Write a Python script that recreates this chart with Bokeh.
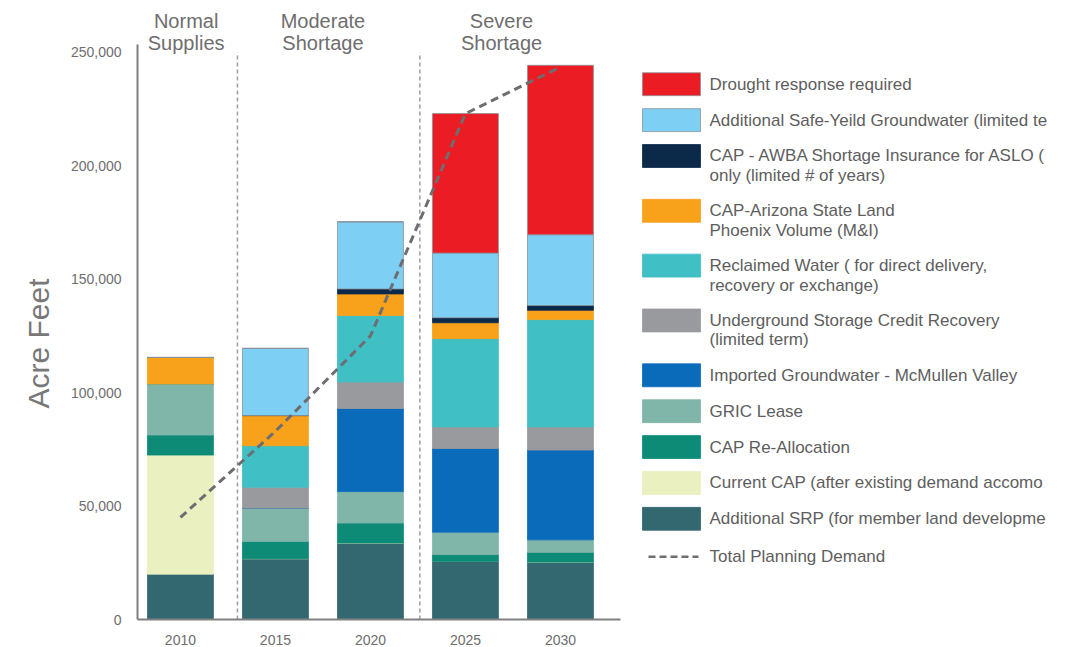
from bokeh.plotting import figure
from bokeh.layouts import row
from bokeh.models import ColumnDataSource, Range1d, FixedTicker, NumeralTickFormatter, Title
from bokeh.core.properties import value
from bokeh.embed import file_html
from bokeh.resources import INLINE

# ---- data (acre-feet) ----
years = [2010, 2015, 2020, 2025, 2030]

srp          = [20000, 26800, 33700, 25600, 25300]
current_cap  = [52500,     0,     0,     0,     0]
cap_realloc  = [ 8800,  7600,  8800,  3000,  4300]
gric         = [22500, 14700, 13900,  9900,  5500]
imported_gw  = [    0,     0, 36600, 36900, 39600]
storage_rec  = [    0,  9200, 11700,  9500, 10200]
reclaimed    = [    0, 18300, 29300, 38900, 47300]
cap_state    = [11700, 13300,  9500,  7000,  4100]
awba         = [    0,     0,  2200,  2200,  2100]
safe_yield   = [    0, 29600, 29600, 28500, 31200]
drought      = [    0,     0,     0, 61500, 74700]

planning_demand = [45000, 83000, 125000, 223000, 243500]

series_keys = ["srp", "current_cap", "cap_realloc", "gric", "imported_gw",
               "storage_rec", "reclaimed", "cap_state", "awba", "safe_yield", "drought"]
series_values = [srp, current_cap, cap_realloc, gric, imported_gw,
                 storage_rec, reclaimed, cap_state, awba, safe_yield, drought]
series_colors = ["#346871", "#EAF0C0", "#0D8B77", "#80B5A9", "#0A6BBB",
                 "#999A9E", "#40BFC5", "#F8A11B", "#0B2A4A", "#7DCFF3", "#EC1C24"]
series_edges = ["#346871", "#EAF0C0", "#0D8B77", "#80B5A9", "#0A6BBB",
                "#999A9E", "#40BFC5", "#F8A11B", "#0B2A4A", "#8A929A", "#8A929A"]
series_labels = [
    ["Additional SRP (for member land developme"],
    ["Current CAP (after existing demand accomo"],
    ["CAP Re-Allocation"],
    ["GRIC Lease"],
    ["Imported Groundwater - McMullen Valley"],
    ["Underground Storage Credit Recovery", "(limited term)"],
    ["Reclaimed Water ( for direct delivery,", "recovery or exchange)"],
    ["CAP-Arizona State Land", "Phoenix Volume (M&I)"],
    ["CAP - AWBA Shortage Insurance for ASLO (", "only (limited # of years)"],
    ["Additional Safe-Yeild Groundwater (limited te"],
    ["Drought response required"],
]
demand_label = "Total Planning Demand"

y_ticks = [0, 50000, 100000, 150000, 200000, 250000]

period_bounds = [2013.0, 2022.6]
period_top = ["Normal", "Moderate", "Severe"]
period_bottom = ["Supplies", "Shortage", "Shortage"]
period_x = [2010.3, 2017.5, 2026.9]

FONT = "Liberation Sans"
TEXT_GREY = "#6E6E6E"

# ---- main chart ----
p = figure(width=630, height=647,
           x_range=Range1d(2007.74, 2033.16), y_range=Range1d(0, 272850),
           output_backend="svg", toolbar_location=None,
           min_border_left=137, min_border_right=10,
           min_border_top=0, min_border_bottom=26)
p.outline_line_color = None
p.grid.visible = False
p.background_fill_color = "white"
p.border_fill_color = "white"

src = ColumnDataSource(dict(year=years, **dict(zip(series_keys, series_values))))
p.vbar_stack(series_keys, x="year", width=3.47, source=src,
             fill_color=series_colors, line_color=series_edges, line_width=0.8)

# period separators
p.segment(x0=period_bounds, y0=[0, 0], x1=period_bounds, y1=[y_ticks[-1]] * 2,
          line_color="#A898A4", line_width=1.5, line_dash="4 3")

# total planning demand
p.line(years, planning_demand, line_color="#6D6E71", line_width=3, line_dash="8 5")

# period headings
p.text(x=period_x, y=[263900] * 3, text=period_top,
       text_font=value(FONT), text_font_size="20px", text_color=TEXT_GREY,
       text_align="center", text_baseline="alphabetic")
p.text(x=period_x, y=[254300] * 3, text=period_bottom,
       text_font=value(FONT), text_font_size="20px", text_color=TEXT_GREY,
       text_align="center", text_baseline="alphabetic")

# axes
yax = p.yaxis[0]
yax.ticker = FixedTicker(ticks=y_ticks)
yax.formatter = NumeralTickFormatter(format="0,0")
yax.bounds = (0, 253500)
yax.major_label_standoff = 10

xax = p.xaxis[0]
xax.ticker = FixedTicker(ticks=years)
xax.major_label_standoff = 9

for ax in (xax, yax):
    ax.axis_line_color = "#808080"
    ax.axis_line_width = 2
    ax.major_tick_line_color = None
    ax.minor_tick_line_color = None
    ax.major_label_text_font = FONT
    ax.major_label_text_font_size = "14px"
    ax.major_label_text_color = TEXT_GREY

# vertical axis title, raised from the bottom of the frame
p.add_layout(Title(text="Acre Feet", align="left", offset=211, standoff=26,
                   text_font=FONT, text_font_size="30px", text_font_style="normal",
                   text_color="#787878"), "left")

# ---- legend panel ----
lg = figure(width=437, height=647, x_range=Range1d(630, 1067), y_range=Range1d(621, 0),
            x_axis_type=None, y_axis_type=None, output_backend="svg",
            toolbar_location=None, min_border=0, min_border_bottom=26)
lg.outline_line_color = None
lg.grid.visible = False

row_y, sw_colors, sw_edges, txt, txt_y = [], [], [], [], []
y = 84.0
for color, edge, lines in zip(series_colors[::-1], series_edges[::-1], series_labels[::-1]):
    row_y.append(y)
    sw_colors.append(color)
    sw_edges.append(edge)
    for i, line in enumerate(lines):
        txt.append(line)
        txt_y.append(y + 19.5 * i)
    y += 36 + 19 * (len(lines) - 1)
y += 2

lg.rect(x=[671] * len(row_y), y=row_y, width=58, height=23,
        fill_color=sw_colors, line_color=sw_edges, line_width=0.8)
lg.text(x=[709] * len(txt), y=txt_y, text=txt,
        text_font=value(FONT), text_font_size="17px", text_color="#5E5E5E",
        text_align="left", text_baseline="middle")

lg.line([648, 698], [y, y], line_color="#6D6E71", line_width=2.5, line_dash="7 4")
lg.text(x=[709], y=[y], text=[demand_label],
        text_font=value(FONT), text_font_size="17px", text_color="#5E5E5E",
        text_align="left", text_baseline="middle")

layout = row(p, lg)
open("out.html", "w").write(file_html(layout, INLINE))
